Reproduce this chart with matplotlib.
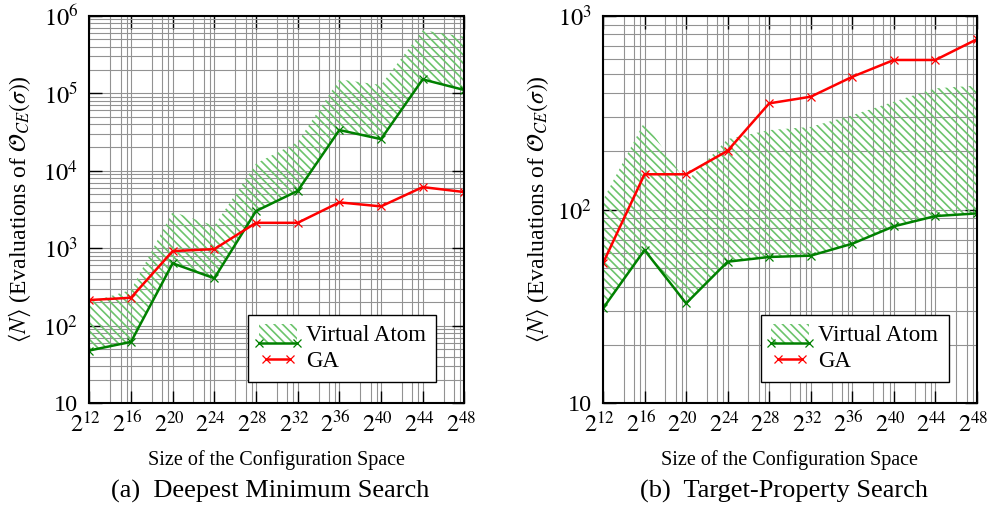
import numpy as np
import matplotlib
matplotlib.use("Agg")
import matplotlib.pyplot as plt
import matplotlib.transforms as mtransforms
from matplotlib.ticker import FixedLocator, FuncFormatter, LogLocator, NullFormatter
from matplotlib.patches import Rectangle
from matplotlib.lines import Line2D
from matplotlib.legend_handler import HandlerBase

plt.rcParams['font.family'] = ['Liberation Serif', 'DejaVu Serif']
plt.rcParams['mathtext.fontset'] = 'stix'
plt.rcParams['hatch.linewidth'] = 1.2

# exponents of the configuration-space size (2^k)
exps = [12, 16, 20, 24, 28, 32, 36, 40, 44, 48]

# (a) deepest minimum search
va_a = [48, 62, 640, 410, 3020, 5500, 33500, 25600, 151000, 110000]
va_a_hi = [200, 290, 2960, 1950, 12400, 23500, 151000, 128000, 650000, 536000]
ga_a = [215, 230, 920, 975, 2130, 2130, 3910, 3470, 6160, 5310]

# (b) target-property search
va_b = [30.9, 61.8, 32.8, 53.8, 56.9, 57.8, 66.6, 81.9, 92.5, 95.5]
va_b_hi = [112, 284, 139, 231, 257, 267, 307, 360, 422, 436]
ga_b = [52.8, 152, 152, 201, 353, 382, 484, 591, 591, 756]

green = '#008000'
hatch_green = '#6cc46c'
red = '#ff0000'
grid_col = '#929292'
HATCH = '\\' * 4


class VAHandler(HandlerBase):
    # hatched box with the mean line along its lower edge
    def create_artists(self, legend, orig_handle, xdescent, ydescent,
                       width, height, fontsize, trans):
        x0, y0 = -xdescent, -ydescent
        r = Rectangle((x0, y0 - 0.1 * height), width, height * 1.15,
                      facecolor='none', edgecolor=hatch_green, hatch=HATCH,
                      lw=0, transform=trans)
        l = Line2D([x0, x0 + width], [y0 - 0.1 * height] * 2, color=green,
                   lw=1.8, marker='x', ms=6, mew=0.9, transform=trans)
        return [r, l]


fig = plt.figure(figsize=(9.88, 5.07), dpi=100)
ax_a = fig.add_axes([0.0904, 0.2045, 0.3796, 0.7645])
ax_b = fig.add_axes([0.6103, 0.2045, 0.3785, 0.7645])

x = [2.0 ** e for e in exps]


def setup(ax, lo, va, hi, ga, ylim):
    ax.set_xscale('log', base=2)
    ax.set_yscale('log')
    ax.fill_between(x, lo, hi, facecolor='none', edgecolor=hatch_green,
                    hatch=HATCH, linewidth=0, zorder=2)
    ax.plot(x, va, color=green, lw=1.8, marker='x', ms=6, mew=0.9, zorder=3)
    ax.plot(x, ga, color=red, lw=1.8, marker='x', ms=6, mew=0.9, zorder=3)
    ax.set_xlim(x[0], x[-1])
    ax.set_ylim(*ylim)

    ax.xaxis.set_major_locator(FixedLocator(x))
    ax.xaxis.set_major_formatter(FuncFormatter(lambda v, p: r'$2^{%d}$' % round(np.log2(v))))
    minors = []
    for e in exps[:-1]:
        minors += [2.0 ** (e + 2), 2.0 ** (e + 3), 3 * 2.0 ** (e + 2)]
    ax.xaxis.set_minor_locator(FixedLocator(minors))
    ax.xaxis.set_minor_formatter(NullFormatter())

    ax.yaxis.set_major_locator(LogLocator(base=10, numticks=20))
    ax.yaxis.set_minor_locator(LogLocator(base=10, subs=np.arange(2, 10), numticks=20))
    ax.yaxis.set_minor_formatter(NullFormatter())
    ax.yaxis.set_major_formatter(FuncFormatter(
        lambda v, p: '10' if abs(v - 10) < 1e-6 else r'$10^{%d}$' % round(np.log10(v))))

    ax.grid(True, which='both', color=grid_col, lw=0.8, zorder=0)
    ax.set_axisbelow(True)
    ax.tick_params(which='major', direction='in', length=9, width=1.0,
                   top=True, right=True, labelsize=17.5, color='black')
    ax.tick_params(axis='x', which='major', pad=6)
    ax.tick_params(axis='y', which='major', pad=8)
    ax.tick_params(which='minor', length=0)
    for s in ax.spines.values():
        s.set_linewidth(1.5)
        s.set_zorder(5)

    shift = mtransforms.ScaledTranslation(-3.5 / 100, 0, fig.dpi_scale_trans)
    for lab in ax.get_xticklabels():
        lab.set_transform(lab.get_transform() + shift)

    ax.set_xlabel('Size of the Configuration Space', fontsize=14.5, labelpad=9)
    ax.set_ylabel(r'$\langle N\rangle$ (Evaluations of $\mathcal{O}_{CE}(\sigma)$)',
                  fontsize=17)

    h_ga = Line2D([], [], color=red, lw=1.8, marker='x', ms=6, mew=0.9)
    leg = ax.legend(['va', h_ga], ['Virtual Atom', 'GA'], loc='lower right',
                    handler_map={str: VAHandler()},
                    bbox_to_anchor=(0.9245, 0.055), borderaxespad=0,
                    fontsize=16.5, handlelength=1.65, handletextpad=0.4,
                    labelspacing=0.2, fancybox=False, framealpha=1, numpoints=2,
                    edgecolor='black', borderpad=0.45)
    leg.get_frame().set_linewidth(1.0)
    leg.set_zorder(6)


setup(ax_a, va_a, va_a, va_a_hi, ga_a, (10, 1e6))
setup(ax_b, va_b, va_b, va_b_hi, ga_b, (10, 1e3))

ax_a.yaxis.set_label_coords(-0.150, 0.5)
ax_b.yaxis.set_label_coords(-0.140, 0.5)

fig.text(0.2733, 0.031, '(a)  Deepest Minimum Search', ha='center', va='center', fontsize=19)
fig.text(0.7935, 0.031, '(b)  Target-Property Search', ha='center', va='center', fontsize=19)

fig.savefig('out.png', dpi=100)
